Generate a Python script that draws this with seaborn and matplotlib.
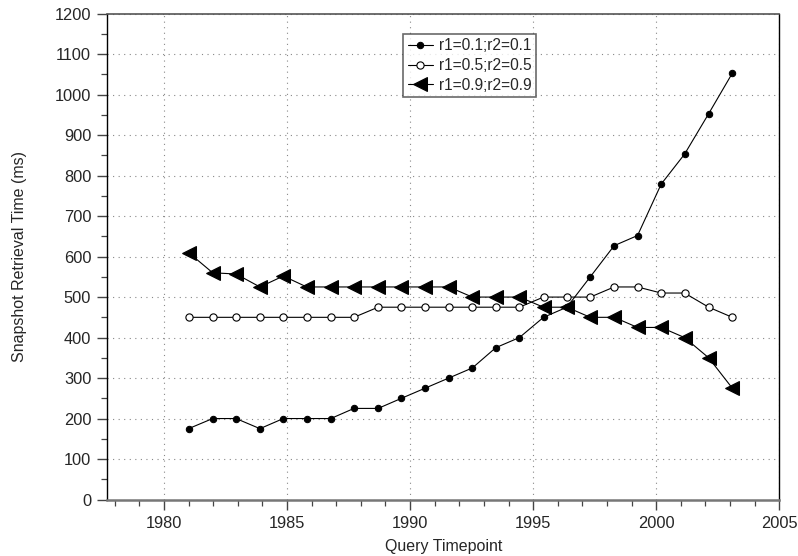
import matplotlib
matplotlib.use("Agg")
import matplotlib.pyplot as plt
from matplotlib.ticker import MultipleLocator
import seaborn as sns

sns.set_style("white")
plt.rcParams["font.family"] = ["Liberation Sans", "DejaVu Sans"]

# Query timepoints (years)
timepoints = [1981.00, 1981.98, 1982.93, 1983.90, 1984.85, 1985.80, 1986.78, 1987.72,
              1988.70, 1989.65, 1990.61, 1991.57, 1992.53, 1993.48, 1994.44, 1995.42,
              1996.37, 1997.32, 1998.29, 1999.24, 2000.20, 2001.15, 2002.13, 2003.09]

# Snapshot retrieval time (ms) per parameter setting
r01 = [175, 200, 200, 175, 200, 200, 200, 225, 225, 250, 275, 300,
       325, 375, 400, 450, 475, 550, 627, 652, 779, 853, 953, 1053]
r05 = [450, 450, 450, 450, 450, 450, 450, 450, 475, 475, 475, 475,
       475, 475, 475, 500, 500, 500, 525, 525, 510, 510, 475, 450]
r09 = [610, 560, 557, 525, 552, 525, 525, 525, 525, 525, 525, 525,
       500, 500, 500, 475, 475, 450, 450, 425, 425, 400, 350, 275]

labels = ["r1=0.1;r2=0.1", "r1=0.5;r2=0.5", "r1=0.9;r2=0.9"]
y_ticks = list(range(0, 1201, 100))
x_ticks = [1980, 1985, 1990, 1995, 2000, 2005]

fig = plt.figure(figsize=(7.98, 5.56), dpi=100)
ax = fig.add_axes([0.1345, 0.1016, 0.8421, 0.8738])

sns.lineplot(x=timepoints, y=r01, ax=ax, color="black", lw=0.8, marker="o",
             markersize=4.6, markerfacecolor="black", markeredgecolor="black",
             label=labels[0])
sns.lineplot(x=timepoints, y=r05, ax=ax, color="black", lw=0.8, marker="o",
             markersize=5.2, markerfacecolor="white", markeredgecolor="black",
             markeredgewidth=0.8, label=labels[1])
sns.lineplot(x=timepoints, y=r09, ax=ax, color="black", lw=0.8, marker="<",
             markersize=10, markerfacecolor="black", markeredgecolor="black",
             label=labels[2])

ax.set_xlim(1977.7, 2005)
ax.set_ylim(0, 1200)
ax.set_xticks(x_ticks)
ax.set_yticks(y_ticks)
ax.xaxis.set_minor_locator(MultipleLocator(1))
ax.yaxis.set_minor_locator(MultipleLocator(50))
ax.tick_params(axis="both", which="major", direction="out", length=7.3, width=1.0,
               color="#444444", labelsize=11.8, pad=4.3)
ax.tick_params(axis="both", which="minor", direction="out", length=4, width=0.9,
               color="#444444")
ax.tick_params(axis="x", which="both", top=False, bottom=True)
ax.tick_params(axis="y", which="both", left=True, right=False)

ax.grid(True, which="major", linestyle=(0, (1, 4)), linewidth=0.8, color="#888888")

ax.spines["left"].set_color("black")
ax.spines["left"].set_linewidth(1.0)
ax.spines["right"].set_color("black")
ax.spines["right"].set_linewidth(1.0)
ax.spines["top"].set_color("#555555")
ax.spines["top"].set_linewidth(1.2)
ax.spines["bottom"].set_color("#777777")
ax.spines["bottom"].set_linewidth(1.8)

ax.set_xlabel("Query Timepoint", fontsize=11.5, labelpad=6)
ax.set_ylabel("Snapshot Retrieval Time (ms)", fontsize=11.5, labelpad=20)

leg = ax.legend(loc="upper left", bbox_to_anchor=(0.4405, 0.9588), borderaxespad=0,
                fontsize=11.2, frameon=True, fancybox=False, handlelength=1.6,
                handletextpad=0.4, labelspacing=0.3, borderpad=0.3)
leg.get_frame().set_edgecolor("#444444")
leg.get_frame().set_linewidth(1.2)

fig.savefig("out.png", dpi=100)
